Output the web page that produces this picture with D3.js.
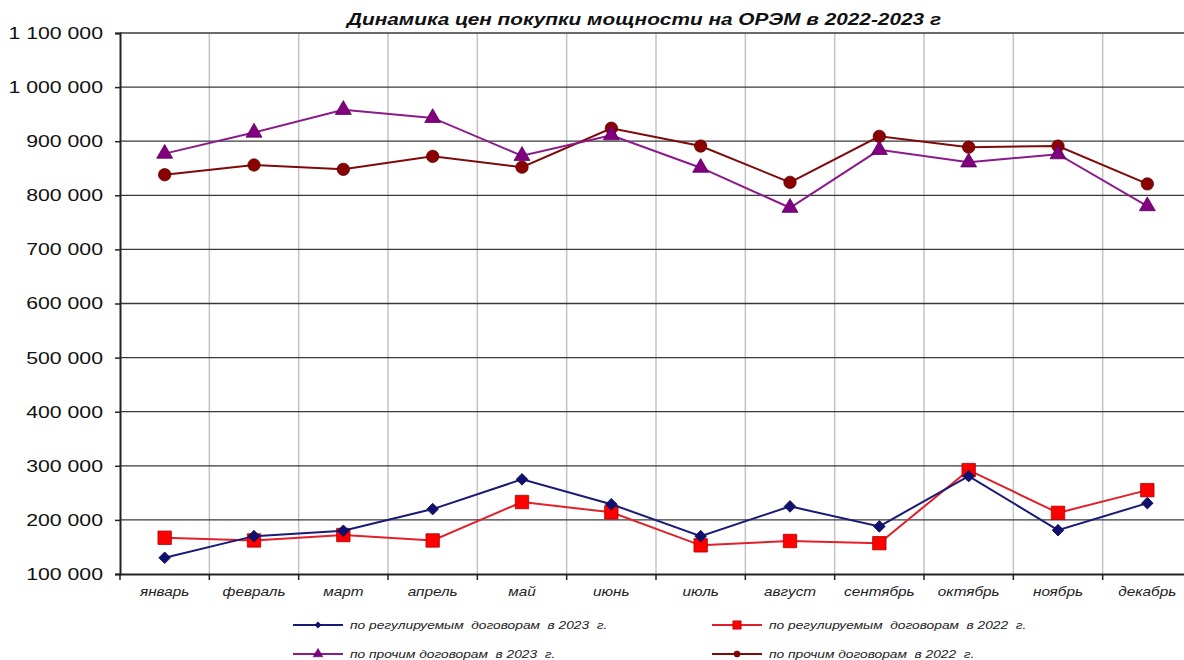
<!DOCTYPE html>
<html>
<head>
<meta charset="utf-8">
<script src="https://cdn.jsdelivr.net/npm/d3@7"></script>
<style>
    body { margin: 0; background: #fff; }
    svg { display: block; }
    text { font-family: "Liberation Sans", Arial, sans-serif; }
</style>
</head>
<body>
<svg></svg>
<script>
const months = ["январь", "февраль", "март", "апрель", "май", "июнь", "июль", "август", "сентябрь", "октябрь", "ноябрь", "декабрь"];
const reg2023 = [130000, 170000, 180000, 220000, 275000, 229000, 170000, 225000, 188000, 281000, 181000, 231000];
const reg2022 = [167000, 162000, 172000, 162000, 233000, 214000, 153000, 161000, 157000, 292000, 213000, 255000];
const other2023 = [877000, 916000, 958000, 943000, 873000, 911000, 851000, 777000, 884000, 861000, 876000, 780000];
const other2022 = [838000, 856000, 848000, 872000, 852000, 924000, 891000, 824000, 909000, 889000, 891000, 821000];
const yTicks = [100000, 200000, 300000, 400000, 500000, 600000, 700000, 800000, 900000, 1000000, 1100000];
const titleText = "Динамика цен покупки мощности на ОРЭМ в 2022-2023 г";

let width = 1184,
    height = 660;
let pLeft = 120, pRight = 1192, pTop = 33, pBottom = 574;
let stretch = 1.25; // the source image is widened, so text is too

let svg = d3.select("svg")
    .attr("width", width)
    .attr("height", height);

let x = d3.scaleBand()
    .domain(months)
    .range([pLeft, pRight]);

let y = d3.scaleLinear()
    .domain([100000, 1100000])
    .range([pBottom, pTop]);

let fmt = v => d3.format(",")(v).replace(/,/g, " ");

// vertical grid at category boundaries
let bounds = months.map(m => x(m)).concat([pRight]);
svg.append("g")
    .selectAll("line")
    .data(bounds.slice(1))
    .enter().append("line")
    .attr("x1", d => d).attr("x2", d => d)
    .attr("y1", pTop).attr("y2", pBottom)
    .attr("stroke", "#c4c4c4")
    .attr("stroke-width", 1.5);

// horizontal grid
svg.append("g")
    .selectAll("line")
    .data(yTicks.slice(1))
    .enter().append("line")
    .attr("x1", pLeft).attr("x2", pRight)
    .attr("y1", d => y(d)).attr("y2", d => y(d))
    .attr("stroke", "#3a3a3a")
    .attr("stroke-width", 1.3);

// y axis
let yAxis = svg.append("g")
    .attr("transform", "translate(" + pLeft + ",0)")
    .call(d3.axisLeft(y).tickValues(yTicks).tickFormat(fmt).tickSize(5).tickPadding(12));
yAxis.select(".domain").attr("stroke", "#222").attr("stroke-width", 2);
yAxis.selectAll(".tick line").attr("stroke", "#222").attr("stroke-width", 1.5);
yAxis.selectAll("text")
    .attr("x", -17 / stretch)
    .attr("transform", "scale(" + stretch + ",1)")
    .attr("font-size", 17)
    .attr("fill", "#111")
    .style("font-family", "Liberation Sans, Arial, sans-serif");

// x axis
let xAxis = svg.append("g")
    .attr("transform", "translate(0," + pBottom + ")")
    .call(d3.axisBottom(x).tickSize(0).tickPadding(13));
xAxis.select(".domain").attr("stroke", "#222").attr("stroke-width", 2);
xAxis.selectAll("text")
    .attr("transform", "scale(" + (stretch - 0.07) + ",1)")
    .attr("font-size", 13)
    .attr("font-style", "italic")
    .attr("fill", "#222")
    .style("font-family", "Liberation Sans, Arial, sans-serif");
svg.append("g")
    .selectAll("line")
    .data(bounds)
    .enter().append("line")
    .attr("x1", d => d).attr("x2", d => d)
    .attr("y1", pBottom).attr("y2", pBottom + 6)
    .attr("stroke", "#222")
    .attr("stroke-width", 1.5);

// title
svg.append("text")
    .attr("transform", "translate(644,25) scale(1.3,1)")
    .attr("text-anchor", "middle")
    .attr("font-size", 16)
    .attr("font-weight", "bold")
    .attr("font-style", "italic")
    .attr("fill", "#111")
    .style("white-space", "pre")
    .text(titleText);

let series = [
    { name: "по прочим договорам  в 2022  г.", values: other2022, line: "#7f0a0a", fill: "#8b0000", stroke: "#5a0000", shape: "circle" },
    { name: "по прочим договорам  в 2023  г.", values: other2023, line: "#8b1a8b", fill: "#800080", stroke: "#5a005a", shape: "triangle" },
    { name: "по регулируемым  договорам  в 2022  г.", values: reg2022, line: "#e0202a", fill: "#ff0000", stroke: "#b00000", shape: "square" },
    { name: "по регулируемым  договорам  в 2023  г.", values: reg2023, line: "#1a1a78", fill: "#101070", stroke: "#101050", shape: "diamond" }
];

let symbolOf = {
    circle: d3.symbol().type(d3.symbolCircle).size(120),
    triangle: d3.symbol().type(d3.symbolTriangle).size(110),
    square: d3.symbol().type(d3.symbolSquare).size(180),
    diamond: d3.symbol().type(d3.symbolSquare).size(68)
};
let smallSymbol = {
    circle: d3.symbol().type(d3.symbolCircle).size(30),
    triangle: d3.symbol().type(d3.symbolTriangle).size(40),
    square: d3.symbol().type(d3.symbolSquare).size(70),
    diamond: d3.symbol().type(d3.symbolSquare).size(20)
};
let rot = shape => shape === "diamond" ? " rotate(45)" : "";

let line = d3.line()
    .x((d, i) => x(months[i]) + x.bandwidth() / 2)
    .y(d => y(d));

series.forEach(s => {
    let g = svg.append("g");
    g.append("path")
        .datum(s.values)
        .attr("fill", "none")
        .attr("stroke", s.line)
        .attr("stroke-width", 2)
        .attr("d", line);
    g.selectAll("path.pt")
        .data(s.values)
        .enter().append("path")
        .attr("class", "pt")
        .attr("transform", (d, i) => "translate(" + (x(months[i]) + x.bandwidth() / 2) + "," + y(d) + ")" + rot(s.shape))
        .attr("d", symbolOf[s.shape]())
        .attr("fill", s.fill)
        .attr("stroke", s.stroke)
        .attr("stroke-width", 0.8);
});

// legend
let legendItems = [
    { s: series[3], x: 293, y: 625 },
    { s: series[2], x: 712, y: 625 },
    { s: series[1], x: 293, y: 654 },
    { s: series[0], x: 712, y: 654 }
];
let legend = svg.append("g");
legendItems.forEach(it => {
    let g = legend.append("g").attr("transform", "translate(" + it.x + "," + it.y + ")");
    g.append("line")
        .attr("x1", 0).attr("x2", 50)
        .attr("stroke", it.s.line)
        .attr("stroke-width", 2);
    g.append("path")
        .attr("transform", "translate(25,0)" + rot(it.s.shape))
        .attr("d", smallSymbol[it.s.shape]())
        .attr("fill", it.s.fill)
        .attr("stroke", it.s.stroke)
        .attr("stroke-width", 0.6);
    g.append("text")
        .attr("transform", "translate(57,4) scale(" + stretch + ",1)")
        .attr("font-size", 11)
        .attr("font-style", "italic")
        .attr("fill", "#222")
        .style("white-space", "pre")
        .text(it.s.name);
});
</script>
</body>
</html>
